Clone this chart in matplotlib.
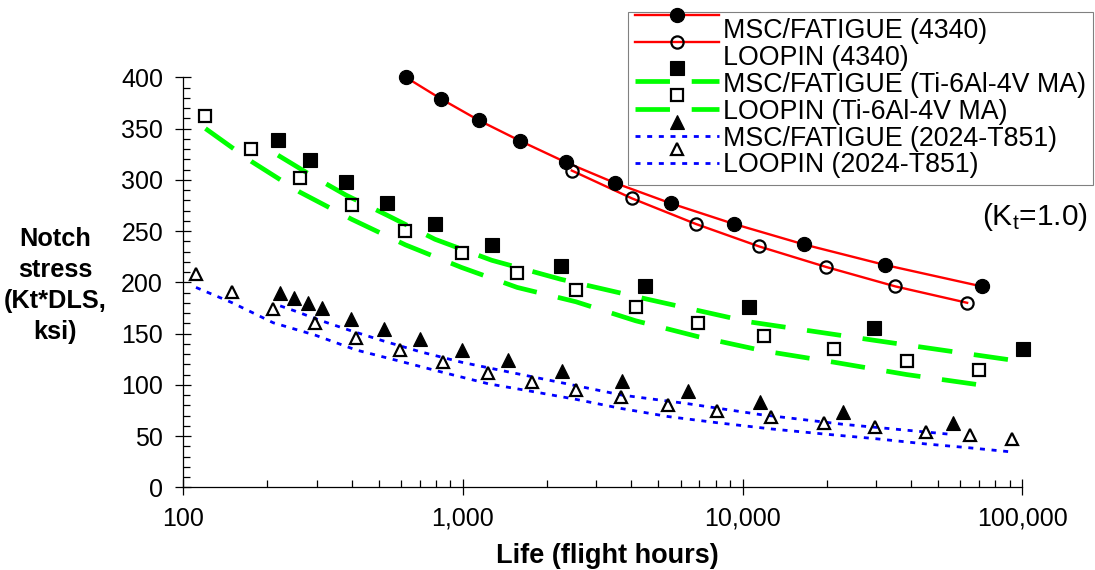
import numpy as np
import matplotlib
matplotlib.use('Agg')
import matplotlib.pyplot as plt
from matplotlib.lines import Line2D
from matplotlib.legend_handler import HandlerBase
from matplotlib.ticker import FixedLocator, FixedFormatter, MultipleLocator, LogLocator, NullFormatter

plt.rcParams['font.family'] = ['Liberation Sans', 'DejaVu Sans']
plt.rcParams['mathtext.fontset'] = 'custom'
plt.rcParams['mathtext.rm'] = 'Liberation Sans'
plt.rcParams['mathtext.it'] = 'Liberation Sans:italic'

# ---------------- data ----------------
msc_4340_life = [625, 834, 1140, 1600, 2335, 3490, 5540, 9290, 16540, 32200, 71600]
msc_4340_stress = [400, 379, 358, 338, 317, 297, 277, 257, 237, 217, 196]

loopin_4340_life = [2450, 4010, 6790, 11450, 19860, 35150, 63500]
loopin_4340_stress = [309, 282, 257, 235, 215, 196, 180]

msc_ti_life = [218, 284, 382, 535, 794, 1267, 2235, 4480, 10500, 29400, 100700]
msc_ti_stress = [339, 319, 298, 277, 257, 236, 216, 196, 176, 155, 135]
msc_ti_fit = [324, 305, 285, 265.5, 242, 221.5, 203, 184, 161.5, 143.5, 122.5]

loopin_ti_life = [120, 175, 261, 400, 623, 988, 1563, 2535, 4140, 6920, 11940, 21250, 38560, 70100]
loopin_ti_stress = [362, 330, 301.5, 275, 250, 229, 209, 192.5, 175.5, 160.5, 147.5, 135, 123.5, 114]
loopin_ti_fit = [350, 318, 288, 261.5, 236.5, 214.5, 195, 181, 162.5, 147, 133, 122, 110, 100]

msc_al_life = [222, 249, 279, 313, 397, 522, 702, 989, 1452, 2254, 3694, 6390, 11530, 22800, 56400]
msc_al_stress = [190, 185, 180, 175, 164, 154.5, 144.5, 134, 124, 113.5, 104, 93.5, 83, 73, 62.5]
msc_al_fit = [177, 172.3, 167.3, 162.3, 152.8, 142.6, 132.3, 122, 112.6, 102, 90, 81.5, 71, 61.5, 51.5]

loopin_al_life = [111, 149.7, 209.8, 295.8, 414.5, 595.7, 851, 1232, 1760, 2535, 3663, 5420, 8110,
                  12600, 19500, 29700, 45200, 64900, 91600]
loopin_al_stress = [208, 191, 174, 160, 146, 134, 122.5, 112, 103, 95, 88, 80, 74, 69, 63, 59, 54, 51, 47]
loopin_al_fit = [195, 180, 160.5, 148.5, 134, 123, 112, 101, 93.6, 85.8, 77, 69, 63, 57, 52, 47.5,
                 42.3, 38.5, 34.5]

series_labels = ['MSC/FATIGUE (4340)', 'LOOPIN (4340)',
                 'MSC/FATIGUE (Ti-6Al-4V MA)', 'LOOPIN (Ti-6Al-4V MA)',
                 'MSC/FATIGUE (2024-T851)', 'LOOPIN (2024-T851)']

x_ticks = [100, 1000, 10000, 100000]
x_tick_labels = ['100', '1,000', '10,000', '100,000']
y_ticks = [0, 50, 100, 150, 200, 250, 300, 350, 400]

# ---------------- styles ----------------
RED, GREEN, BLUE = '#ff0000', '#00ff00', '#0000ff'
red_kw = dict(color=RED, lw=1.7, linestyle='-')
green_kw = dict(color=GREEN, lw=3.4, linestyle=(0, (7.3, 4.6)))
blue_kw = dict(color=BLUE, lw=2.0, linestyle=(0, (1.8, 2.4)))

mk_fill_circle = dict(marker='o', ms=10.2, mfc='black', mec='black', mew=0.8)
mk_open_circle = dict(marker='o', ms=8.8, mfc='none', mec='black', mew=1.6)
mk_fill_square = dict(marker='s', ms=10.5, mfc='black', mec='black', mew=0.8)
mk_open_square = dict(marker='s', ms=8.8, mfc='none', mec='black', mew=1.6)
mk_fill_tri = dict(marker='^', ms=10.0, mfc='black', mec='black', mew=0.8)
mk_open_tri = dict(marker='^', ms=8.6, mfc='none', mec='black', mew=1.6)

W, H = 1095, 570
fig = plt.figure(figsize=(W / 100, H / 100), dpi=100)
ax_l, ax_r, ax_b, ax_t = 183.3, 1022.3, 487.3, 77.3
ax = fig.add_axes([ax_l / W, 1 - ax_b / H, (ax_r - ax_l) / W, (ax_b - ax_t) / H])
ax.set_xscale('log')

# lines
ax.plot(msc_4340_life, msc_4340_stress, clip_on=False, zorder=2, **red_kw)
ax.plot(loopin_4340_life, loopin_4340_stress, clip_on=False, zorder=2, **red_kw)
ax.plot(msc_ti_life, msc_ti_fit, clip_on=False, zorder=2, **green_kw)
ax.plot(loopin_ti_life, loopin_ti_fit, clip_on=False, zorder=2, **green_kw)
ax.plot(msc_al_life, msc_al_fit, clip_on=False, zorder=2, **blue_kw)
ax.plot(loopin_al_life, loopin_al_fit, clip_on=False, zorder=2, **blue_kw)

# markers
ax.plot(msc_4340_life, msc_4340_stress, ls='none', clip_on=False, zorder=3, **mk_fill_circle)
ax.plot(loopin_4340_life, loopin_4340_stress, ls='none', clip_on=False, zorder=3, **mk_open_circle)
ax.plot(msc_ti_life, msc_ti_stress, ls='none', clip_on=False, zorder=3, **mk_fill_square)
ax.plot(loopin_ti_life, loopin_ti_stress, ls='none', clip_on=False, zorder=3, **mk_open_square)
ax.plot(msc_al_life, msc_al_stress, ls='none', clip_on=False, zorder=3, **mk_fill_tri)
ax.plot(loopin_al_life, loopin_al_stress, ls='none', clip_on=False, zorder=3, **mk_open_tri)

ax.set_xlim(100, 100000)
ax.set_ylim(0, 400)

# axes styling
for s in ['top', 'right']:
    ax.spines[s].set_visible(False)
for s in ['left', 'bottom']:
    ax.spines[s].set_linewidth(0.9)
    ax.spines[s].set_color('black')

ax.xaxis.set_major_locator(FixedLocator(x_ticks))
ax.xaxis.set_major_formatter(FixedFormatter(x_tick_labels))
ax.xaxis.set_minor_locator(LogLocator(base=10, subs=np.arange(2, 10)))
ax.xaxis.set_minor_formatter(NullFormatter())
ax.yaxis.set_major_locator(FixedLocator(y_ticks))
ax.yaxis.set_minor_locator(MultipleLocator(10))
ax.tick_params(which='major', direction='inout', length=12.2, width=0.9, color='black', labelsize=18)
ax.tick_params(which='minor', direction='in', length=5, width=0.9, color='black')
ax.tick_params(axis='x', which='major', pad=8.0)
ax.tick_params(axis='y', which='major', pad=8.5)

ax.set_xlabel('Life (flight hours)', fontsize=19.5, fontweight='bold')
ax.xaxis.set_label_coords(0.505, -0.168)
ax.xaxis.label.set_va('center')
ax.set_ylabel('Notch\nstress\n(Kt*DLS,\nksi)', rotation=0, fontsize=18.3, fontweight='bold',
              ha='center', va='center', linespacing=1.36)
ax.yaxis.set_label_coords(-0.153, 0.492)

fig.text(1088 / W, 1 - 217 / H, r'(K$_{\mathrm{t}}$=1.0)', ha='right', va='center', fontsize=21.5)


# ---------------- legend (Excel-like marker offsets) ----------------
class ExcelLegendHandler(HandlerBase):
    def __init__(self, line_dy, marker_dy):
        super().__init__()
        self.line_dy = line_dy
        self.marker_dy = marker_dy

    def create_artists(self, legend, orig_handle, xdescent, ydescent, width, height, fontsize, trans):
        yc = (height - ydescent) / 2.0
        x0 = -xdescent
        line = Line2D([x0, x0 + width], [yc + self.line_dy] * 2)
        line.update_from(orig_handle)
        line.set_marker('None')
        line.set_transform(trans)
        mk = Line2D([x0 + width / 2.0], [yc + self.marker_dy])
        mk.update_from(orig_handle)
        mk.set_linestyle('None')
        mk.set_transform(trans)
        return [line, mk]


proxies = [
    Line2D([], [], **red_kw, **mk_fill_circle),
    Line2D([], [], **red_kw, **mk_open_circle),
    Line2D([], [], **green_kw, **mk_fill_square),
    Line2D([], [], **green_kw, **mk_open_square),
    Line2D([], [], **blue_kw, **mk_fill_tri),
    Line2D([], [], **blue_kw, **mk_open_tri),
]
offsets = [(10.0, 10.0), (10.0, 10.0), (1.0, 10.5), (0.0, 10.5), (0.0, 10.0), (0.0, 10.0)]
hmap = {p: ExcelLegendHandler(*o) for p, o in zip(proxies, offsets)}

leg = fig.legend(proxies, series_labels, loc='upper right',
                 bbox_to_anchor=(1093 / W, 1 - 11.7 / H), bbox_transform=fig.transFigure,
                 frameon=True, fancybox=False, edgecolor='#808080', framealpha=1,
                 fontsize=19.3, handlelength=3.15, handletextpad=0.15, borderpad=0.25,
                 labelspacing=0.03, borderaxespad=0, handler_map=hmap)
leg.get_frame().set_linewidth(0.8)

fig.savefig('out.png', dpi=100)
